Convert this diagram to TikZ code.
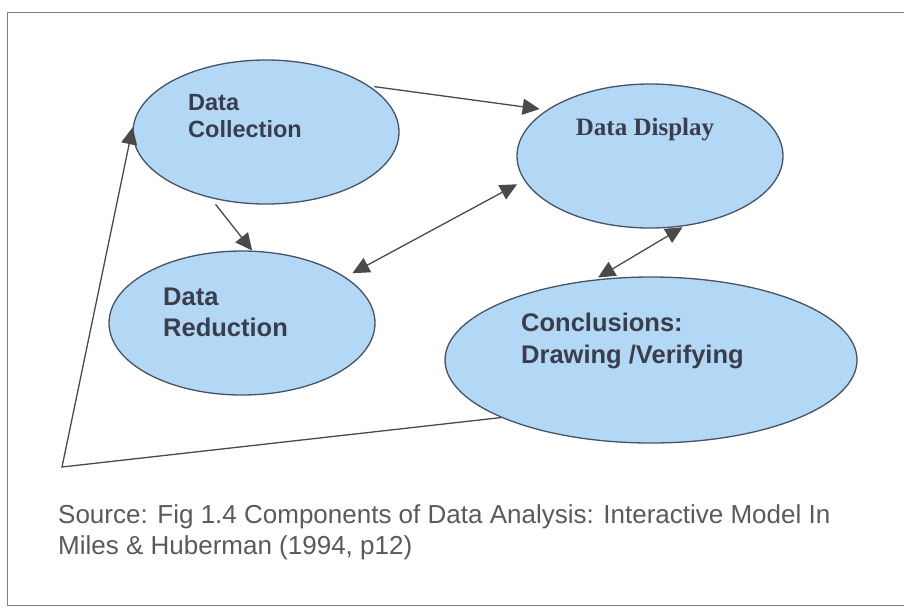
\documentclass[tikz,border=0pt]{standalone}
\usepackage{fontspec}
\setmainfont{Liberation Sans}
\newfontfamily\timesf{Liberation Serif}
\usetikzlibrary{shapes.geometric,arrows.meta}
\definecolor{bubble}{HTML}{B3D8F5}
\definecolor{rim}{HTML}{465264}
\definecolor{ink}{HTML}{3A3E4C}
\definecolor{wire}{HTML}{4A4A4A}
\definecolor{capt}{HTML}{5A5A5A}
\tikzset{
  blob/.style={ellipse, draw=rim, line width=1.3pt, fill=bubble, inner sep=0pt},
  lbl/.style={anchor=west, align=left, text=ink, font=\bfseries, inner sep=0pt},
  conn/.style={draw=wire, line width=1.3pt, -{Triangle[length=17pt,width=16pt]}},
  dconn/.style={draw=wire, line width=1.3pt, {Triangle[length=17pt,width=16pt]}-{Triangle[length=17pt,width=16pt]}}
}
\begin{document}
\begin{tikzpicture}[x=1pt,y=-1pt]
\useasboundingbox (0,0) rectangle (910,608);
\fill[white] (0,0) rectangle (910,608);
\draw[gray, line width=1pt] (904,12) -- (7,12) -- (7,605) -- (904,605);

\node[blob, minimum width=266pt, minimum height=144pt] (dc) at (266,132) {};
\node[blob, minimum width=266pt, minimum height=144pt] (dd) at (650,156) {};
\node[blob, minimum width=266pt, minimum height=144pt] (dr) at (242,323) {};
\node[blob, minimum width=412pt, minimum height=166pt] (cv) at (651,360) {};

\node[lbl, font=\bfseries\fontsize{23.5}{27}\selectfont] (tdc) at (188,116.5) {Data\\Collection};
\node[lbl, anchor=center, font=\timesf\bfseries\fontsize{25}{30}\selectfont] (tdd) at (645,130) {Data Display};
\node[lbl, font=\bfseries\fontsize{25.5}{31}\selectfont] (tdr) at (163,312.5) {Data\\Reduction};
\node[lbl, font=\bfseries\fontsize{25.5}{32}\selectfont] (tcv) at (521,341) {Conclusions:\\Drawing /Verifying};

\node[anchor=west, align=left, text=capt, inner sep=0pt, font=\fontsize{26}{31}\selectfont] (src) at (58,532)
  {Source: Fig 1.4 Components of Data Analysis: Interactive Model In\\Miles \& Huberman (1994, p12)};

\coordinate (corner) at (62,467);

\draw[conn, shorten <=5pt, shorten >=7pt] (dc.24) -- (dd.156);
\draw[conn, shorten <=8pt] (dc.230) -- (dr.82);
\draw[dconn, shorten <=8pt, shorten >=8pt] (dr.24) -- (dd.191);
\draw[dconn, shorten <=2pt, shorten >=4pt] (dd.296) -- (cv.125);
\draw[conn] (cv.201) -- (corner) -- (dc.178);
\end{tikzpicture}
\end{document}
